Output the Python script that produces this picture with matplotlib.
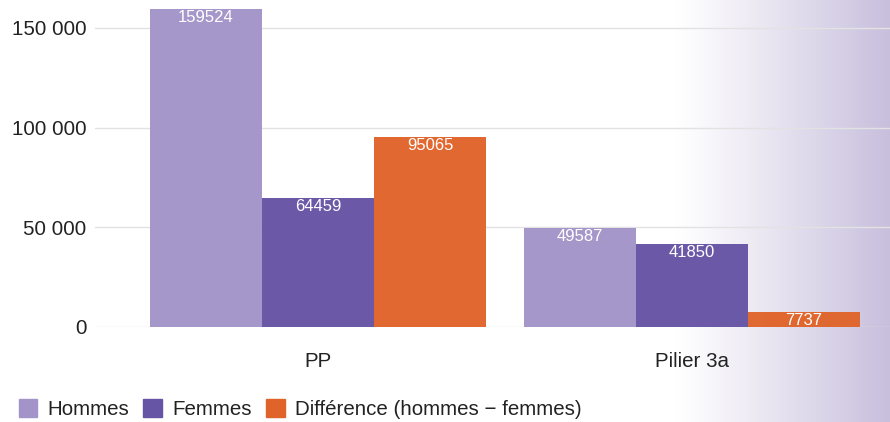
import matplotlib
matplotlib.use("Agg")
import matplotlib.pyplot as plt
import matplotlib.patches as patches
import numpy as np

plt.rcParams['font.family'] = ['Liberation Sans', 'DejaVu Sans']

# data
categories = ["PP", "Pilier 3a"]
series_names = ["Hommes", "Femmes", "Différence (hommes − femmes)"]
hommes = [159524, 49587]
femmes = [64459, 41850]
difference = [95065, 7737]
yticks = [0, 50000, 100000, 150000]

colors = ["#A294C8", "#6654A5", "#E0642A"]

fig = plt.figure(figsize=(8.9, 4.22), dpi=100)

# soft lilac wash on the right side of the canvas
bg = fig.add_axes([0, 0, 1, 1], zorder=-10)
xs = np.linspace(0, 1, 890)
ramp = np.clip((xs - 0.76) / (1.0 - 0.76), 0, 1) ** 1.1
img = np.ones((2, 890, 3))
tint = np.array([200, 191, 221]) / 255.0
for c in range(3):
    img[:, :, c] = 1 - ramp * (1 - tint[c])
bg.imshow(img, aspect='auto', extent=[0, 1, 0, 1])
bg.axis('off')

ax = fig.add_axes([95 / 890, 1 - 327 / 422, 1 - 95 / 890, 327 / 422])
ax.set_facecolor('none')

x = np.arange(len(categories))
width = 0.3
all_series = [hommes, femmes, difference]
for i, (vals, col) in enumerate(zip(all_series, colors)):
    bars = ax.bar(x + (i - 1) * width, vals, width, color=col, alpha=0.97,
                  zorder=3, label=series_names[i])
    for b, v in zip(bars, vals):
        ax.annotate(str(v), (b.get_x() + b.get_width() / 2, v),
                    xytext=(0, -1), textcoords='offset pixels',
                    ha='center', va='top', color='white', fontsize=12, zorder=4)

ax.set_xlim(-0.596, 1.53)
ax.set_ylim(0, 164000)
ax.set_yticks(yticks)
ax.set_yticklabels([f"{t:,}".replace(",", " ") for t in yticks], fontsize=14.8, color='#222222')
ax.set_xticks(x)
ax.set_xticklabels(categories, fontsize=14.8, color='#222222')
ax.tick_params(axis='both', length=0)
ax.tick_params(axis='y', pad=6)
ax.tick_params(axis='x', pad=18)
ax.grid(axis='y', color='#e2e2e2', linewidth=1, zorder=0)
for s in ax.spines.values():
    s.set_visible(False)

handles = [patches.Patch(color=c) for c in colors]
fig.legend(handles, series_names, loc='lower left', bbox_to_anchor=(0.0, -0.037),
           ncol=3, frameon=False, fontsize=14.8, handlelength=0.9, handleheight=0.9,
           handletextpad=0.5, columnspacing=0.7, labelcolor='#222222')

fig.savefig("out.png", dpi=100)
